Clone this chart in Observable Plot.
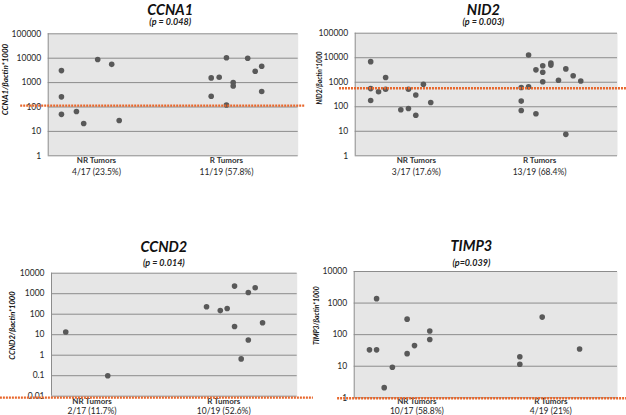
<!DOCTYPE html>
<html>
<head>
<meta charset="utf-8">
<script src="https://cdn.jsdelivr.net/npm/d3@7"></script>
<script src="https://cdn.jsdelivr.net/npm/@observablehq/plot@0.6"></script>
<style>
  body { margin: 0; background: #fff; }
  #wrap { position: relative; width: 626px; height: 415px; overflow: hidden; font-family: Lato, "Open Sans", sans-serif; }
  .panel { position: absolute; }
  .panel svg { overflow: visible; }
</style>
</head>
<body>
<div id="wrap"></div>
<script>
// ---------- DATA ----------
const groupNames = ["NR Tumors", "R Tumors"];

// CCNA1
const ccna1Title = "CCNA1";
const ccna1P = "(p = 0.048)";
const ccna1YLabel = "CCNA1/βactin*1000";
const ccna1X   = [5.3, 5.3, 5.3, 11.3, 14.2, 19.8, 25.4, 28.4, 65.2, 65.2, 68.4, 71.3, 71.3, 74, 74, 79.8, 82.8, 85.4, 85.4];
const ccna1Val = [3100, 260, 50, 65, 21, 8800, 5600, 28, 1560, 275, 1650, 10500, 120, 1000, 730, 10000, 2900, 4700, 430];
const ccna1Cut = 114;
const ccna1Ticks = [1, 10, 100, 1000, 10000, 100000];
const ccna1GroupX = [19.3, 71.3];
const ccna1Ratios = ["4/17 (23.5%)", "11/19 (57.8%)"];

// NID2
const nid2Title = "NID2";
const nid2P = "(p = 0.003)";
const nid2YLabel = "NID2/βactin*1000";
const nid2X   = [5.9, 5.9, 5.9, 8.9, 11.6, 11.6, 17.4, 20.3, 20.3, 23.1, 23.1, 26, 28.8,
                 63.3, 63.3, 63.3, 66.1, 66.1, 68.9, 68.9, 71.5, 71.5, 71.5, 74.6, 74.6, 77.5, 80.3, 80.3, 83.1, 86];
const nid2Val = [6900, 550, 180, 410, 1550, 520, 75, 85, 520, 300, 45, 830, 150,
                 610, 170, 70, 13000, 650, 3200, 52, 4700, 2550, 1050, 6100, 5000, 1200, 3500, 7.5, 1850, 1130];
const nid2Cut = 570;
const nid2Ticks = [1, 10, 100, 1000, 10000, 100000];
const nid2GroupX = [23.3, 70.3];
const nid2Ratios = ["3/17 (17.6%)", "13/19 (68.4%)"];

// CCND2
const ccnd2Title = "CCND2";
const ccnd2P = "(p = 0.014)";
const ccnd2YLabel = "CCND2/βactin*1000";
const ccnd2X   = [5.8, 22.9, 63.1, 68.7, 71.5, 74.5, 74.5, 77.2, 80.1, 80.1, 82.9, 85.9];
const ccnd2Val = [13.5, 0.1, 230, 150, 190, 2350, 25, 0.66, 1150, 5.5, 1950, 38];
const ccnd2Cut = 0.0085;
const ccnd2Ticks = [0.01, 0.1, 1, 10, 100, 1000, 10000];
const ccnd2GroupX = [16.5, 70.1];
const ccnd2Ratios = ["2/17 (11.7%)", "10/19 (52.6%)"];

// TIMP3
const timp3Title = "TIMP3";
const timp3P = "(p=0.039)";
const timp3YLabel = "TIMP3/βactin*1000";
const timp3X   = [5.8, 8.5, 8.5, 11.4, 14.5, 20.1, 20.1, 22.9, 28.7, 28.7, 62.9, 62.9, 71.4, 85.6];
const timp3Val = [33, 33, 1380, 2.1, 9.3, 310, 25, 45, 130, 70, 20, 11.5, 360, 35];
const timp3Cut = 0.97;
const timp3Ticks = [1, 10, 100, 1000, 10000];
const timp3GroupX = [23.8, 74.7];
const timp3Ratios = ["10/17 (58.8%)", "4/19 (21%)"];

// ---------- LAYOUT ----------
const panels = [
  {title: ccna1Title, p: ccna1P, ylabel: ccna1YLabel, xs: ccna1X, vals: ccna1Val, cut: ccna1Cut, ticks: ccna1Ticks, gx: ccna1GroupX, ratios: ccna1Ratios,
   left: 0, top: 0, width: 313, height: 207, mt: 33.3, mb: 51.7, ml: 47.7, mr: 15.3,
   titleDx: -3, titleDy: -23.5, pDy: -11.2, ylDx: -42.7, ylDy: -15.3, ylSize: 8, cutX: [-11, 103], lab1: 4.7, lab2: 16.4},
  {title: nid2Title, p: nid2P, ylabel: nid2YLabel, xs: nid2X, vals: nid2Val, cut: nid2Cut, ticks: nid2Ticks, gx: nid2GroupX, ratios: nid2Ratios,
   left: 313, top: 0, width: 313, height: 207, mt: 32.7, mb: 51.7, ml: 41.7, mr: 9,
   titleDx: -3, titleDy: -22.9, pDy: -10.6, ylDx: -35.7, ylDy: -16.5, ylSize: 6.6, cutX: [-6, 103.4], lab1: 4.7, lab2: 16.4},
  {title: ccnd2Title, p: ccnd2P, ylabel: ccnd2YLabel, xs: ccnd2X, vals: ccnd2Val, cut: ccnd2Cut, ticks: ccnd2Ticks, gx: ccnd2GroupX, ratios: ccnd2Ratios,
   left: 0, top: 207, width: 313, height: 208, mt: 65.7, mb: 19.3, ml: 51, mr: 16.3,
   titleDx: -10.5, titleDy: -26.2, pDy: -10.4, ylDx: -39, ylDy: -9.2, ylSize: 7.6, cutX: [-20.8, 106.6], lab1: 5, lab2: 15.3},
  {title: timp3Title, p: timp3P, ylabel: timp3YLabel, xs: timp3X, vals: timp3Val, cut: timp3Cut, ticks: timp3Ticks, gx: timp3GroupX, ratios: timp3Ratios,
   left: 313, top: 207, width: 313, height: 208, mt: 64, mb: 17.7, ml: 40.7, mr: 9,
   titleDx: -14.5, titleDy: -25.2, pDy: -8.3, ylDx: -37.7, ylDy: -19, ylSize: 6.8, cutX: [-6.3, 103.6], lab1: 3.4, lab2: 13.7}
];

const grid = "#8c8c8c";
const wrap = document.getElementById("wrap");

for (const c of panels) {
  const points = c.xs.map((x, i) => ({x, v: c.vals[i]}));
  const groups = groupNames.map((g, i) => ({x: c.gx[i], name: g, ratio: c.ratios[i]}));
  const chart = Plot.plot({
    width: c.width,
    height: c.height,
    marginTop: c.mt, marginBottom: c.mb, marginLeft: c.ml, marginRight: c.mr,
    style: {fontFamily: "Lato, 'Open Sans', sans-serif", background: "transparent", color: "#333"},
    x: {domain: [0, 100], axis: null},
    y: {type: "log", domain: [c.ticks[0], c.ticks[c.ticks.length - 1]]},
    marks: [
      Plot.frame({fill: "#e6e6e6", stroke: "none"}),
      Plot.ruleY(c.ticks, {stroke: grid, strokeWidth: 1}),
      Plot.ruleX([0], {stroke: grid, strokeWidth: 1}),
      Plot.axisY(c.ticks, {tickSize: 0, tickPadding: 7, tickFormat: d => String(d), fontSize: 8.5, label: null, fill: "#262626"}),
      Plot.dot(points, {x: "x", y: "v", r: 2.8, fill: "#595959", stroke: "none"}),
      Plot.text(groups, {x: "x", text: "name", frameAnchor: "bottom", dy: c.lab1, lineAnchor: "middle", fontSize: 8, fontWeight: "bold", fill: "#333"}),
      Plot.text(groups, {x: "x", text: "ratio", frameAnchor: "bottom", dy: c.lab2, lineAnchor: "middle", fontSize: 8.5, fill: "#262626"}),
      Plot.ruleY([c.cut], {x1: c.cutX[0], x2: c.cutX[1], stroke: "#e8672c", strokeWidth: 2.4, strokeDasharray: "2,1"}),
      Plot.text([c.title], {text: d => d, frameAnchor: "top", dx: c.titleDx, dy: c.titleDy, lineAnchor: "middle", fontSize: 14.5, fontWeight: "bold", fontStyle: "italic", fill: "#111"}),
      Plot.text([c.p], {text: d => d, frameAnchor: "top", dx: c.titleDx, dy: c.pDy, lineAnchor: "middle", fontSize: 9, fontWeight: "bold", fontStyle: "italic", fill: "#222"}),
      Plot.text([c.ylabel], {text: d => d, frameAnchor: "left", rotate: -90, textAnchor: "middle", lineAnchor: "middle", dx: c.ylDx, dy: c.ylDy, fontSize: c.ylSize, fontWeight: "bold", fontStyle: "italic", fill: "#111"})
    ]
  });
  const div = document.createElement("div");
  div.className = "panel";
  div.style.left = c.left + "px";
  div.style.top = c.top + "px";
  div.appendChild(chart);
  wrap.appendChild(div);
}
</script>
</body>
</html>
